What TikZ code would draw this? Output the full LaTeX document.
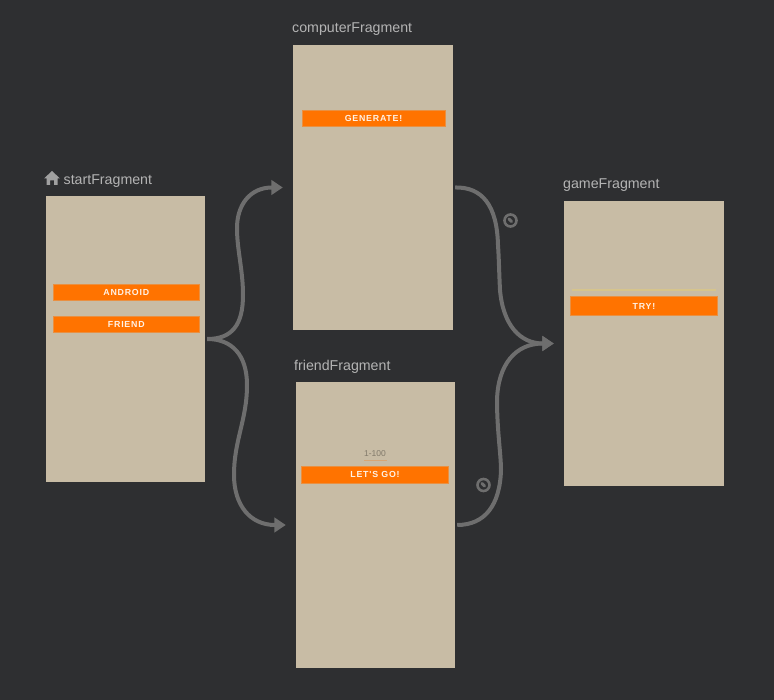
\documentclass[tikz,border=0pt]{standalone}
\usepackage{fontspec}
\setmainfont{Liberation Sans}
\newfontfamily\btnfont[LetterSpace=9]{Liberation Sans}
\usetikzlibrary{arrows.meta}
\definecolor{bg}{HTML}{2E2F31}
\definecolor{frag}{HTML}{C8BCA5}
\definecolor{orng}{HTML}{FF7300}
\definecolor{conn}{HTML}{6E6E6E}
\definecolor{lbl}{HTML}{B4B4B4}
\definecolor{rule}{HTML}{D6C48C}
\tikzset{
  x=1pt,y=-1pt,
  fragbox/.style={rectangle,fill=frag,draw=none,inner sep=0pt,minimum width=159,minimum height=286},
  btn/.style={rectangle,fill=orng,draw=orng!60!frag,line width=.5pt,inner sep=0pt,minimum height=16.5,text=white!90!orng,font=\btnfont\bfseries\fontsize{8.8}{9}\selectfont},
  title/.style={anchor=base west,inner sep=0pt,text=lbl,font=\fontsize{14.2}{16}\selectfont},
  link/.style={draw=conn,line width=4pt,-{Triangle[length=11.5pt,width=14.5pt,fill=conn]},shorten >=10pt,shorten <=2pt},
  badge/.style={circle,draw=conn,line width=2.6pt,minimum size=12pt,inner sep=0pt},
}
\begin{document}
\begin{tikzpicture}
\useasboundingbox (0,0) rectangle (774,700);
\fill[bg] (0,0) rectangle (774,700);

\node[fragbox] (start) at (125.5,339) {};
\node[fragbox,minimum width=160,minimum height=285] (computer) at (373,187.5) {};
\node[fragbox] (friend) at (375.5,525) {};
\node[fragbox,minimum width=160,minimum height=285] (game) at (644,343.5) {};

\node[title] (startlbl) at (63.5,185) {startFragment};
\node[title] (computerlbl) at (292,33) {computerFragment};
\node[title] (friendlbl) at (294,371) {friendFragment};
\node[title] (gamelbl) at (563,189) {gameFragment};

\fill[lbl!85!bg] (52,171) -- (60,178.5) -- (57.5,178.5) -- (57.5,185) -- (54,185) -- (54,180.5) -- (50,180.5) -- (50,185) -- (46.5,185) -- (46.5,178.5) -- (44,178.5) -- cycle;

\node[btn,minimum width=146.5] (android) at (126.3,292.3) {\raisebox{-.4pt}{ANDROID}};
\node[btn,minimum width=146.5] (friendbtn) at (126.3,324.5) {\raisebox{-.4pt}{FRIEND}};
\node[btn,minimum width=142.5] (generate) at (373.5,118.5) {\raisebox{-.4pt}{GENERATE!}};
\node[btn,minimum width=147] (letsgo) at (375,474.5) {\raisebox{-.4pt}{LET'S GO!}};
\node[btn,minimum width=147,minimum height=19] (try) at (644,306) {\raisebox{-.4pt}{TRY!}};

\node[inner sep=0pt,text=frag!65!black,font=\fontsize{8.5}{9}\selectfont] (range) at (375,453.5) {1-100};
\fill[orng!30!frag] (363.5,460) rectangle (387,461);
\fill[rule] (572,289.5) rectangle (716,291);

\draw[link] (start.east) .. controls (232,339) and (243,325) .. (243,295)
  .. controls (243,270) and (237,250) .. (237,228)
  .. controls (237,205) and (250,187.5) .. (computer.west);
\draw[link] (start.east) .. controls (232,339) and (247,355) .. (247,385)
  .. controls (247,420) and (234,440) .. (234,475)
  .. controls (234,505) and (250,525) .. (friend.west);
\draw[link] (computer.east) .. controls (482,187) and (497,205) .. (498,245)
  .. controls (499,260) and (499,270) .. (500,290)
  .. controls (503,325) and (520,343.5) .. (game.west);
\draw[link] (friend.east) .. controls (485,525) and (500,505) .. (501,470)
  .. controls (501,455) and (497,430) .. (497,400)
  .. controls (498,365) and (515,343.5) .. (game.west);

\node[badge] (badgea) at (510.5,220.5) {};
\node[badge] (badgeb) at (483.5,485) {};
\draw[conn,line width=3pt,line cap=round] (509,219) -- (511.5,221.5);
\draw[conn,line width=3pt,line cap=round] (482,483.5) -- (484.5,486);
\end{tikzpicture}
\end{document}
